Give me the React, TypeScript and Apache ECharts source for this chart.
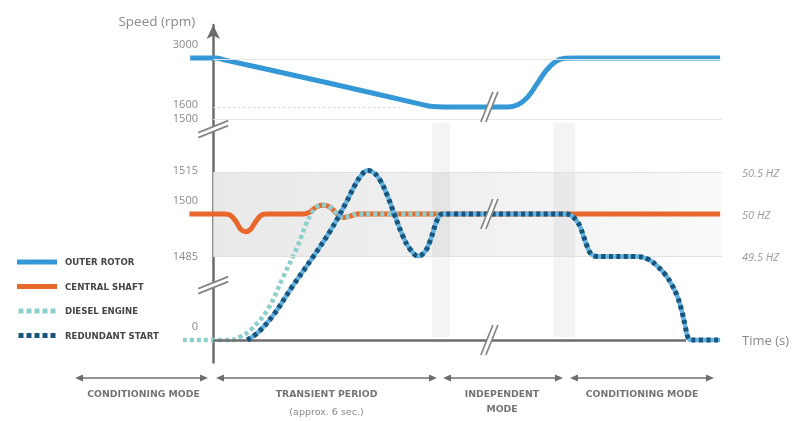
import React, { useEffect, useRef } from 'react';
import * as echarts from 'echarts';

// ---- axes (schematic time / level units) ----
const timeMin = -0.8;
const timeMax = 13.45;
const levelMin = -7.5;
const levelMax = 105;

const leftTickValues = [4.7, 28.3, 46.7, 57, 74.2, 78.7, 98.9];
const leftTickLabels = ['0', '1485', '1500', '1515', '1500', '1600', '3000'];
const rightTickValues = [0, 28, 42, 56];
const rightTickLabels = ['Time (s)', '49.5 HZ', '50 HZ', '50.5 HZ'];

// ---- series ----
const outerRotor = [
  [-0.61, 94], [0.05, 94], [0.35, 93.2], [2.9, 86.1], [5.45, 78.7], [5.8, 77.8], [6.1, 77.7],
  [7.8, 77.7], [8.05, 78.4], [8.3, 80.8], [8.55, 85.2], [8.8, 89.8], [9.05, 92.8], [9.3, 93.9],
  [9.6, 94], [13.4, 94],
];
const centralShaft = [
  [-0.63, 42], [0.3, 42], [0.45, 41.6], [0.6, 39.5], [0.72, 37], [0.85, 36.1], [0.98, 36.8],
  [1.1, 39], [1.25, 41.4], [1.4, 42], [2.4, 42], [2.55, 42.6], [2.72, 44.3], [2.91, 45],
  [3.1, 44.2], [3.25, 42.3], [3.44, 40.8], [3.62, 41.3], [3.81, 42], [4.1, 42], [13.4, 42],
];
const dieselEngine = [
  [-0.8, 0], [0.45, 0], [0.7, 1], [1.0, 3.5], [1.43, 10], [1.85, 21], [2.22, 31], [2.45, 38.5],
  [2.6, 42.3], [2.72, 44.3], [2.91, 45], [3.1, 44.2], [3.25, 42.3], [3.44, 40.8], [3.62, 41.3],
  [3.81, 42], [4.1, 42], [6.0, 42],
];
const redundantStart = [
  [0.9, 0], [1.2, 2.7], [1.6, 8.5], [2.1, 18], [2.6, 27], [3.1, 36.5], [3.5, 45.5],
  [3.75, 51.7], [3.92, 55], [4.07, 56.5], [4.22, 56], [4.4, 53.5], [4.6, 48.2], [4.8, 41.5],
  [5.0, 35], [5.2, 30.3], [5.42, 28], [5.6, 29.5], [5.74, 33.3], [5.92, 40], [6.05, 42],
  [6.3, 42], [9.25, 42], [9.45, 41.6], [9.6, 39.8], [9.7, 37.7], [9.89, 31], [9.98, 28.8],
  [10.1, 27.9], [10.3, 27.8], [11.2, 27.8], [11.5, 26.9], [11.74, 24.6], [11.95, 21.8],
  [12.12, 18.5], [12.27, 14.5], [12.39, 9.5], [12.48, 4.5], [12.54, 1.2], [12.62, 0],
  [12.8, 0], [13.4, 0],
];

// ---- reference levels / regions ----
const rpm3000Level = 93.7;
const rpm1600Level = 77.7;
const rpm1500Level = 73.6;
const hzHighLevel = 56;
const hzLowLevel = 28;
const transitionBands = [[5.79, 6.26], [8.99, 9.57]];
const transitionBandRange = [1, 72.3];
const timeAxisEnd = 12.5;
const rpmDottedEnd = 5.0;
const yBreakLevels = [70.3, 18.3];
const xBreakTime = 7.3;
const xBreakLevels = [77.7, 42, 0];

const modeLabels = ['CONDITIONING MODE', 'TRANSIENT PERIOD', 'INDEPENDENT', 'CONDITIONING MODE'];
const modeSubLabels = ['', '(approx. 6 sec.)', 'MODE', ''];

const seriesNames = ['OUTER ROTOR', 'CENTRAL SHAFT', 'DIESEL ENGINE', 'REDUNDANT START'];
const colors = {
  rotor: '#3497d6',
  shaft: '#e8672a',
  diesel: '#8dcfcc',
  redundantBase: '#62b1e0',
  redundantDots: '#17557c',
  axis: '#6c6c6c',
  grid: '#e4e4e4',
};

const dotIcon = 'path://M0,0h5v5h-5zM8,0h5v5h-5zM16,0h5v5h-5zM24,0h5v5h-5zM32,0h5v5h-5z';

export default function App() {
  const ref = useRef<HTMLDivElement>(null);
  useEffect(() => {
    const chart = echarts.init(ref.current!, null, { renderer: 'svg' });
    const lineBase = { type: 'line', smooth: 0.4, symbol: 'none' };
    const option: any = {
      animation: false,
      grid: { left: 183, right: 71, top: 25, bottom: 58.5, containLabel: false },
      legend: {
        orient: 'vertical',
        left: 12,
        top: 251,
        itemWidth: 40,
        itemHeight: 5,
        itemGap: 12.5,
        selectedMode: false,
        textStyle: {
          fontFamily: 'DejaVu Sans',
          fontWeight: 'bold',
          fontSize: 8.6,
          color: '#464646',
          lineHeight: 12,
          padding: [0, 0, 0, 3],
        },
        data: [
          { name: seriesNames[0], icon: 'rect', itemStyle: { color: colors.rotor, borderWidth: 0 } },
          { name: seriesNames[1], icon: 'rect', itemStyle: { color: colors.shaft, borderWidth: 0 } },
          { name: seriesNames[2], icon: dotIcon, itemStyle: { color: colors.diesel, borderWidth: 0 } },
          { name: seriesNames[3], icon: dotIcon, itemStyle: { color: colors.redundantDots, borderWidth: 0 } },
        ],
      },
      xAxis: {
        type: 'value',
        min: timeMin,
        max: timeMax,
        show: false,
      },
      yAxis: [
        {
          type: 'value',
          min: levelMin,
          max: levelMax,
          position: 'left',
          name: '{a|Speed (rpm)}{b| }',
          nameLocation: 'end',
          nameGap: 4,
          nameTextStyle: {
            align: 'right',
            verticalAlign: 'middle',
            rich: {
              a: { fontFamily: 'Open Sans', fontSize: 13.5, color: '#8a8a8a' },
              b: { width: 18, fontSize: 13 },
            },
          },
          axisLine: {
            show: true,
            onZero: true,
            symbol: ['none', 'arrow'],
            symbolSize: [10, 14],
            lineStyle: { color: colors.axis, width: 2.5 },
          },
          axisTick: { show: false },
          splitLine: { show: false },
          axisLabel: {
            customValues: leftTickValues,
            margin: -15,
            fontFamily: 'Open Sans',
            fontSize: 11,
            color: '#8a8a8a',
            formatter: (v: number) => {
              const i = leftTickValues.findIndex((t) => Math.abs(t - v) < 1e-6);
              return i >= 0 ? leftTickLabels[i] : '';
            },
          },
        },
        {
          type: 'value',
          min: levelMin,
          max: levelMax,
          position: 'right',
          axisLine: { show: false, onZero: false },
          axisTick: { show: false },
          splitLine: { show: false },
          axisLabel: {
            customValues: rightTickValues,
            margin: 20,
            formatter: (v: number) => {
              const i = rightTickValues.findIndex((t) => Math.abs(t - v) < 1e-6);
              if (i < 0) return '';
              return i === 0 ? '{t|' + rightTickLabels[i] + '}' : '{h|' + rightTickLabels[i] + '}';
            },
            rich: {
              t: { fontFamily: 'Open Sans', fontSize: 13, color: '#8a8a8a' },
              h: { fontFamily: 'Open Sans', fontSize: 11, fontStyle: 'italic', color: '#9a9a9a' },
            },
          },
        },
      ],
      series: [
        {
          name: 'decor',
          type: 'line',
          z: 1,
          silent: true,
          data: [[0, 0]],
          symbol: 'none',
          lineStyle: { width: 0, opacity: 0 },
          markArea: {
            silent: true,
            data: [
              [
                {
                  coord: [0, hzLowLevel],
                  itemStyle: {
                    color: {
                      type: 'linear', x: 0, y: 0, x2: 1, y2: 0,
                      colorStops: [
                        { offset: 0, color: '#e9e9e9' },
                        { offset: 0.5, color: '#f0f0f0' },
                        { offset: 1, color: '#fafafa' },
                      ],
                    },
                  },
                },
                { coord: [timeMax, hzHighLevel] },
              ],
              ...transitionBands.map((b) => [
                { coord: [b[0], transitionBandRange[0]], itemStyle: { color: 'rgba(0,0,0,0.045)' } },
                { coord: [b[1], transitionBandRange[1]] },
              ]),
            ],
          },
          markLine: {
            silent: true,
            symbol: ['none', 'none'],
            label: { show: false },
            emphasis: { disabled: true },
            data: [
              [{ coord: [0, rpm3000Level], lineStyle: { color: colors.grid, width: 1, type: 'solid' } }, { coord: [timeMax, rpm3000Level] }],
              [{ coord: [0, rpm1500Level], lineStyle: { color: colors.grid, width: 1, type: 'solid' } }, { coord: [timeMax, rpm1500Level] }],
              [{ coord: [0, rpm1600Level], lineStyle: { color: '#cfcfcf', width: 1, type: [2, 3] } }, { coord: [rpmDottedEnd, rpm1600Level] }],
              [{ coord: [0, hzHighLevel], lineStyle: { color: '#e0e0e0', width: 1, type: 'solid' } }, { coord: [timeMax, hzHighLevel] }],
              [{ coord: [0, hzLowLevel], lineStyle: { color: '#e0e0e0', width: 1, type: 'solid' } }, { coord: [timeMax, hzLowLevel] }],
              [{ coord: [0, 0], lineStyle: { color: colors.axis, width: 2.5, type: 'solid' } }, { coord: [timeAxisEnd, 0] }],
            ],
          },
        },
        {
          ...lineBase,
          name: seriesNames[0],
          z: 2,
          data: outerRotor,
          color: colors.rotor,
          lineStyle: { color: colors.rotor, width: 5 },
        },
        {
          ...lineBase,
          name: seriesNames[1],
          z: 3,
          data: centralShaft,
          color: colors.shaft,
          lineStyle: { color: colors.shaft, width: 5 },
        },
        {
          ...lineBase,
          name: seriesNames[2],
          z: 4,
          data: dieselEngine,
          color: colors.diesel,
          lineStyle: { color: colors.diesel, width: 4.5, type: [4, 3] },
        },
        {
          ...lineBase,
          name: 'REDUNDANT START base',
          z: 5,
          data: redundantStart,
          color: colors.redundantBase,
          lineStyle: { color: colors.redundantBase, width: 4.5 },
        },
        {
          ...lineBase,
          name: seriesNames[3],
          z: 6,
          data: redundantStart,
          color: colors.redundantDots,
          lineStyle: { color: colors.redundantDots, width: 5, type: [4, 3.5] },
        },
      ],
    };
    chart.setOption(option);

    const px = (x: number, y: number) => chart.convertToPixel({ gridIndex: 0 }, [x, y]) as number[];
    const graphics: any[] = [];
    const markColor = '#858585';
    yBreakLevels.forEach((lvl) => {
      const [cx, cy] = px(0, lvl);
      graphics.push({
        type: 'polygon', z: 100, silent: true,
        shape: { points: [[cx - 15, cy + 3.5], [cx + 15, cy - 8.5], [cx + 15, cy - 3.5], [cx - 15, cy + 8.5]] },
        style: { fill: '#ffffff' },
      });
      [-2.5, 2.5].forEach((d) => {
        graphics.push({
          type: 'line', z: 101, silent: true,
          shape: { x1: cx - 15, y1: cy + 6 + d, x2: cx + 15, y2: cy - 6 + d },
          style: { stroke: markColor, lineWidth: 1.7 },
        });
      });
    });
    xBreakLevels.forEach((lvl) => {
      const [cx, cy] = px(xBreakTime, lvl);
      graphics.push({
        type: 'polygon', z: 100, silent: true,
        shape: { points: [[cx - 8.5, cy + 15], [cx + 3.5, cy - 15], [cx + 8.5, cy - 15], [cx - 3.5, cy + 15]] },
        style: { fill: '#ffffff' },
      });
      [-2.5, 2.5].forEach((d) => {
        graphics.push({
          type: 'line', z: 101, silent: true,
          shape: { x1: cx - 6 + d, y1: cy + 15, x2: cx + 6 + d, y2: cy - 15 },
          style: { stroke: markColor, lineWidth: 1.7 },
        });
      });
    });
    const arrowY = 378;
    const spans = [[75, 208], [216, 437], [443, 563], [570, 714]];
    const annColor = '#6e6e6e';
    spans.forEach((s, i) => {
      const [a, b] = s;
      graphics.push({
        type: 'line', silent: true,
        shape: { x1: a + 4, y1: arrowY, x2: b - 4, y2: arrowY },
        style: { stroke: annColor, lineWidth: 1.5 },
      });
      graphics.push({
        type: 'polygon', silent: true,
        shape: { points: [[a, arrowY], [a + 8, arrowY - 3.5], [a + 8, arrowY + 3.5]] },
        style: { fill: annColor },
      });
      graphics.push({
        type: 'polygon', silent: true,
        shape: { points: [[b, arrowY], [b - 8, arrowY - 3.5], [b - 8, arrowY + 3.5]] },
        style: { fill: annColor },
      });
      const cx = (a + b) / 2 + (i === 0 ? 2 : i === 2 ? -1 : 0);
      graphics.push({
        type: 'text', silent: true,
        style: {
          text: modeLabels[i], x: cx, y: 393, align: 'center', verticalAlign: 'middle',
          fontFamily: 'DejaVu Sans', fontWeight: 'bold', fontSize: 9.3, fill: '#747474',
        },
      });
      if (modeSubLabels[i]) {
        const bold = i === 2;
        graphics.push({
          type: 'text', silent: true,
          style: {
            text: modeSubLabels[i], x: cx, y: bold ? 408 : 411, align: 'center', verticalAlign: 'middle',
            fontFamily: 'DejaVu Sans', fontWeight: bold ? 'bold' : 'normal', fontSize: bold ? 9.3 : 9.5,
            fill: bold ? '#747474' : '#8a8a8a',
          },
        });
      }
    });
    chart.setOption({ graphic: graphics });
    return () => chart.dispose();
  }, []);
  return <div ref={ref} style={{ position: 'fixed', left: 0, top: 0, width: 793, height: 421 }} />;
}
